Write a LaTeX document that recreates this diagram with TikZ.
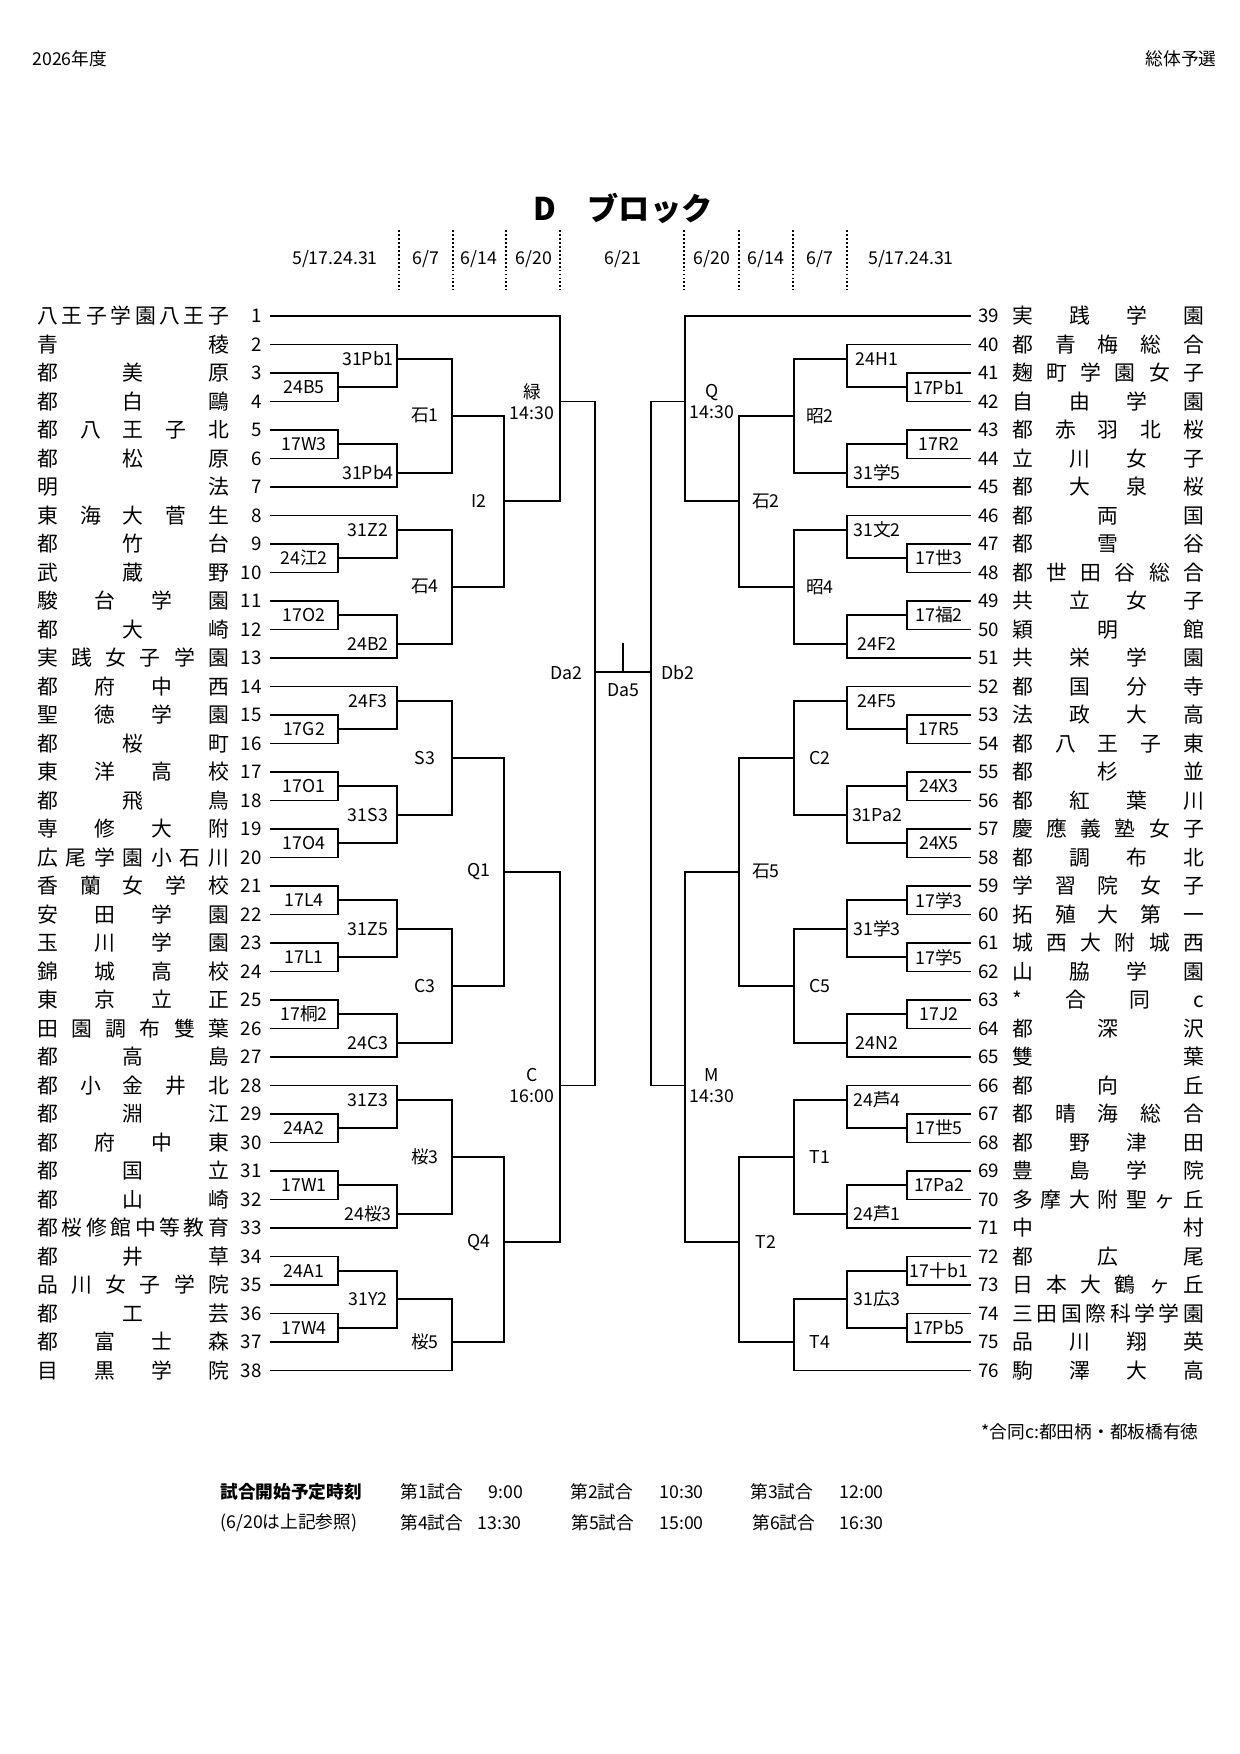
\documentclass[tikz,border=0pt]{standalone}
\usepackage{fontspec}
\setmainfont{Noto Sans CJK JP}
\usepackage{tikz}

\newlength\namew
\setlength\namew{92pt}
\def\spreadnext#1{\ifx#1\relax\else\hfill#1\expandafter\spreadnext\fi}
\def\spreadfirst#1{#1\spreadnext}
\newcommand\spreadname[1]{\makebox[\namew]{\spreadfirst#1\relax}}
% bracket: name, column, upper input, lower input, output row, label x, label
\newcommand\bkt[7]{%
  \coordinate (#1) at (#2,{316+(#5-1)*28.5});
  \draw[bline] (#3) -| (#1);
  \draw[bline] (#4) -| (#1);
  \node[lbl] (#1t) at (#6,{316+(#5-1)*28.5}) {#7};}

\begin{document}
\begin{tikzpicture}[x=0.48pt,y=-0.48pt,
            bline/.style={line width=0.8pt},
            lbl/.style={font=\fontsize{8.5}{10}\selectfont, inner sep=0pt, align=center},
            team/.style={font=\fontsize{10}{12}\selectfont, inner sep=0pt, anchor=west},
            num/.style={font=\fontsize{9}{11}\selectfont, inner sep=0pt},
            day/.style={font=\fontsize{8.5}{10}\selectfont, inner sep=0pt},
            sep/.style={densely dotted, line width=0.9pt},
            ]
            \useasboundingbox (0,0) rectangle (1240,1754);
            \def\cA{338} \def\cB{397} \def\cC{452} \def\cD{504} \def\cE{560}
            \def\dA{907} \def\dB{847} \def\dC{794} \def\dD{739} \def\dE{685}

            % header
            \node[day, anchor=west] (year) at (32,59) {2026年度};
            \node[day, anchor=east] (meet) at (1217,59) {総体予選};
            \node[font=\fontsize{15}{17}\selectfont\bfseries] (title) at (623,208) {D\hspace{1em}ブロック};
            \foreach \x [count=\i] in {399,453,506,560,684,739,793,847}
                \draw[sep] (\x,230) coordinate (s\i) -- (\x,290) coordinate (e\i);
            \foreach \x/\d [count=\i] in {335/{5/17.24.31},426/{6/7},479/{6/14},534/{6/20},623/{6/21},712/{6/20},766/{6/14},820/{6/7},911/{5/17.24.31}}
                \node[day] (d\i) at (\x,259) {\d};

            % teams
            \foreach \t [count=\i] in {八王子学園八王子,青稜,都美原,都白鷗,都八王子北,都松原,明法,東海大菅生,都竹台,武蔵野,駿台学園,都大崎,実践女子学園,都府中西,聖徳学園,都桜町,東洋高校,都飛鳥,専修大附,広尾学園小石川,香蘭女学校,安田学園,玉川学園,錦城高校,東京立正,田園調布雙葉,都高島,都小金井北,都淵江,都府中東,都国立,都山崎,都桜修館中等教育,都井草,品川女子学院,都工芸,都富士森,目黒学院}{
                \node[team] (na\i) at (37,{316+(\i-1)*28.5}) {\expandafter\spreadname\expandafter{\t}};
                \node[num, anchor=east] (ka\i) at (262,{316+(\i-1)*28.5}) {\i};
                \coordinate (a\i) at (270,{316+(\i-1)*28.5});
            }
            \foreach \t [count=\i] in {実践学園,都青梅総合,麹町学園女子,自由学園,都赤羽北桜,立川女子,都大泉桜,都両国,都雪谷,都世田谷総合,共立女子,穎明館,共栄学園,都国分寺,法政大高,都八王子東,都杉並,都紅葉川,慶應義塾女子,都調布北,学習院女子,拓殖大第一,城西大附城西,山脇学園,*合同c,都深沢,雙葉,都向丘,都晴海総合,都野津田,豊島学院,多摩大附聖ヶ丘,中村,都広尾,日本大鶴ヶ丘,三田国際科学学園,品川翔英,駒澤大高}{
                \pgfmathtruncatemacro\k{\i+38}
                \node[team] (nb\i) at (1012,{316+(\i-1)*28.5}) {\expandafter\spreadname\expandafter{\t}};
                \node[num, anchor=west] (kb\i) at (978,{316+(\i-1)*28.5}) {\k};
                \coordinate (b\i) at (971,{316+(\i-1)*28.5});
            }

            % left half
            \bkt{pA}{\cA}{a3}{a4}{3.5}{304}{24B5}
            \bkt{pB}{\cB}{a2}{pA}{2.5}{368}{31Pb1}
            \bkt{pC}{\cA}{a5}{a6}{5.5}{304}{17W3}
            \bkt{pD}{\cB}{pC}{a7}{6.5}{368}{31Pb4}
            \bkt{pE}{\cC}{pB}{pD}{4.5}{425}{石1}
            \bkt{pF}{\cA}{a9}{a10}{9.5}{304}{24江2}
            \bkt{pG}{\cB}{a8}{pF}{8.5}{368}{31Z2}
            \bkt{pH}{\cA}{a11}{a12}{11.5}{304}{17O2}
            \bkt{pI}{\cB}{pH}{a13}{12.5}{368}{24B2}
            \bkt{pJ}{\cC}{pG}{pI}{10.5}{425}{石4}
            \bkt{pK}{\cD}{pE}{pJ}{7.5}{479}{I2}
            \bkt{pL}{\cE}{a1}{pK}{4}{532}{緑\\14:30}
            \bkt{qA}{\cA}{a15}{a16}{15.5}{304}{17G2}
            \bkt{qB}{\cB}{a14}{qA}{14.5}{368}{24F3}
            \bkt{qC}{\cA}{a17}{a18}{17.5}{304}{17O1}
            \bkt{qD}{\cA}{a19}{a20}{19.5}{304}{17O4}
            \bkt{qE}{\cB}{qC}{qD}{18.5}{368}{31S3}
            \bkt{qF}{\cC}{qB}{qE}{16.5}{425}{S3}
            \bkt{qG}{\cA}{a21}{a22}{21.5}{304}{17L4}
            \bkt{qH}{\cA}{a23}{a24}{23.5}{304}{17L1}
            \bkt{qI}{\cB}{qG}{qH}{22.5}{368}{31Z5}
            \bkt{qJ}{\cA}{a25}{a26}{25.5}{304}{17桐2}
            \bkt{qK}{\cB}{qJ}{a27}{26.5}{368}{24C3}
            \bkt{qL}{\cC}{qI}{qK}{24.5}{425}{C3}
            \bkt{qM}{\cD}{qF}{qL}{20.5}{479}{Q1}
            \bkt{rA}{\cA}{a29}{a30}{29.5}{304}{24A2}
            \bkt{rB}{\cB}{a28}{rA}{28.5}{368}{31Z3}
            \bkt{rC}{\cA}{a31}{a32}{31.5}{304}{17W1}
            \bkt{rD}{\cB}{rC}{a33}{32.5}{368}{24桜3}
            \bkt{rE}{\cC}{rB}{rD}{30.5}{425}{桜3}
            \bkt{rF}{\cA}{a34}{a35}{34.5}{304}{24A1}
            \bkt{rG}{\cA}{a36}{a37}{36.5}{304}{17W4}
            \bkt{rH}{\cB}{rF}{rG}{35.5}{368}{31Y2}
            \bkt{rI}{\cC}{rH}{a38}{37}{425}{桜5}
            \bkt{rJ}{\cD}{rE}{rI}{33.5}{479}{Q4}
            \bkt{rK}{\cE}{qM}{rJ}{28}{532}{C\\16:00}

            % right half
            \bkt{sA}{\dA}{b3}{b4}{3.5}{939}{17Pb1}
            \bkt{sB}{\dB}{b2}{sA}{2.5}{877}{24H1}
            \bkt{sC}{\dA}{b5}{b6}{5.5}{939}{17R2}
            \bkt{sD}{\dB}{sC}{b7}{6.5}{877}{31学5}
            \bkt{sE}{\dC}{sB}{sD}{4.5}{820}{昭2}
            \bkt{sF}{\dA}{b9}{b10}{9.5}{939}{17世3}
            \bkt{sG}{\dB}{b8}{sF}{8.5}{877}{31文2}
            \bkt{sH}{\dA}{b11}{b12}{11.5}{939}{17福2}
            \bkt{sI}{\dB}{sH}{b13}{12.5}{877}{24F2}
            \bkt{sJ}{\dC}{sG}{sI}{10.5}{820}{昭4}
            \bkt{sK}{\dD}{sE}{sJ}{7.5}{766}{石2}
            \bkt{sL}{\dE}{b1}{sK}{4}{712}{Q\\14:30}
            \bkt{uA}{\dA}{b15}{b16}{15.5}{939}{17R5}
            \bkt{uB}{\dB}{b14}{uA}{14.5}{877}{24F5}
            \bkt{uC}{\dA}{b17}{b18}{17.5}{939}{24X3}
            \bkt{uD}{\dA}{b19}{b20}{19.5}{939}{24X5}
            \bkt{uE}{\dB}{uC}{uD}{18.5}{877}{31Pa2}
            \bkt{uF}{\dC}{uB}{uE}{16.5}{820}{C2}
            \bkt{uG}{\dA}{b21}{b22}{21.5}{939}{17学3}
            \bkt{uH}{\dA}{b23}{b24}{23.5}{939}{17学5}
            \bkt{uI}{\dB}{uG}{uH}{22.5}{877}{31学3}
            \bkt{uJ}{\dA}{b25}{b26}{25.5}{939}{17J2}
            \bkt{uK}{\dB}{uJ}{b27}{26.5}{877}{24N2}
            \bkt{uL}{\dC}{uI}{uK}{24.5}{820}{C5}
            \bkt{uM}{\dD}{uF}{uL}{20.5}{766}{石5}
            \bkt{vA}{\dA}{b29}{b30}{29.5}{939}{17世5}
            \bkt{vB}{\dB}{b28}{vA}{28.5}{877}{24芦4}
            \bkt{vC}{\dA}{b31}{b32}{31.5}{939}{17Pa2}
            \bkt{vD}{\dB}{vC}{b33}{32.5}{877}{24芦1}
            \bkt{vE}{\dC}{vB}{vD}{30.5}{820}{T1}
            \bkt{vF}{\dA}{b34}{b35}{34.5}{939}{17十b1}
            \bkt{vG}{\dA}{b36}{b37}{36.5}{939}{17Pb5}
            \bkt{vH}{\dB}{vF}{vG}{35.5}{877}{31広3}
            \bkt{vI}{\dC}{vH}{b38}{37}{820}{T4}
            \bkt{vJ}{\dD}{vE}{vI}{33.5}{766}{T2}
            \bkt{vK}{\dE}{uM}{vJ}{28}{712}{M\\14:30}

            % final
            \coordinate (Da) at (595,672);
            \coordinate (Db) at (651,672);
            \coordinate (top) at (623,643);
            \coordinate (mid) at (623,672);
            \draw[bline] (pL) -| (Da);
            \draw[bline] (rK) -| (Da);
            \draw[bline] (sL) -| (Db);
            \draw[bline] (vK) -| (Db);
            \draw[bline] (Da) -- (Db);
            \draw[bline] (top) -- (mid);
            \node[lbl] (Dat) at (566,673) {Da2};
            \node[lbl] (Dbt) at (678,673) {Db2};
            \node[lbl] (Dct) at (623,690) {Da5};

            % footer
            \node[day, anchor=east] (note) at (1199,1432) {*合同c:都田柄・都板橋有徳};
            \node[day, anchor=west, font=\fontsize{8.5}{10}\selectfont\bfseries] (sched) at (220,1492) {試合開始予定時刻};
            \node[day, anchor=west] (ref) at (220,1523) {(6/20は上記参照)};
            \foreach \x/\y/\t in {400/1492/第1試合,488/1492/9:00,570/1492/第2試合,659/1492/10:30,750/1492/第3試合,839/1492/12:00,
                                  400/1523/第4試合,477/1523/13:30,571/1523/第5試合,659/1523/15:00,752/1523/第6試合,839/1523/16:30}
                \node[day, anchor=west] (f\x\y) at (\x,\y) {\t};
        \end{tikzpicture}
\end{document}
